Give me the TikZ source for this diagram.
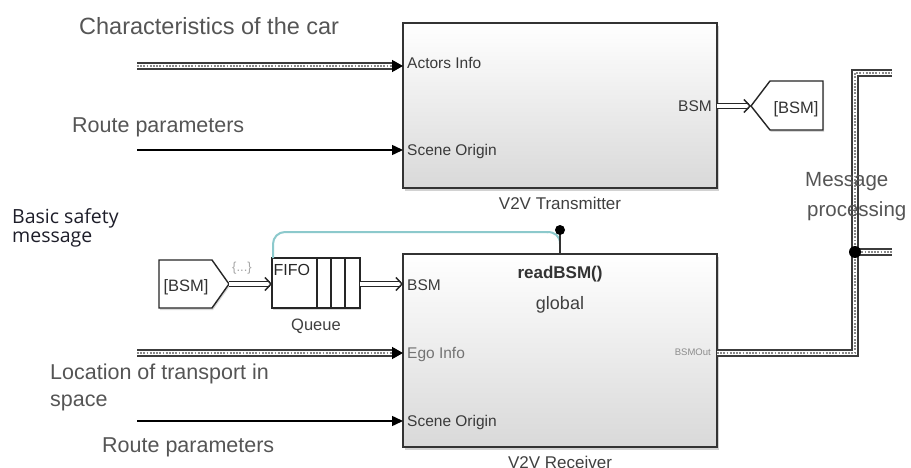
\documentclass[tikz,border=0pt]{standalone}
\usepackage{fontspec}
\setmainfont{Liberation Sans}
\newfontfamily\notefont{Open Sans}
\usetikzlibrary{arrows.meta,shadows,calc}

\definecolor{busdark}{HTML}{3C3C3C}
\definecolor{busdot}{HTML}{8A8A8A}
\definecolor{trigteal}{HTML}{8CC9CC}
\definecolor{labelgray}{HTML}{555555}
\definecolor{portgray}{HTML}{3A3A3A}
\definecolor{notecol}{HTML}{1E1E2A}

\tikzset{
  x=1pt, y=-1pt,
  block/.style={draw=black!80, line width=1.5pt, top color=white, bottom color=black!15,
    drop shadow={shadow xshift=1.5pt, shadow yshift=-3pt, opacity=0.35},
    inner sep=0pt, outer sep=0pt},
  smallbox/.style={draw=black!85, line width=1.4pt, fill=white,
    drop shadow={shadow xshift=1pt, shadow yshift=-2pt, opacity=0.3},
    inner sep=0pt, outer sep=0pt},
  busline/.style={line width=8pt, draw=busdark,
    postaction={draw=white, line width=4.2pt},
    postaction={draw=busdot, line width=1.8pt, dash pattern=on 1.8pt off 1.4pt}},
  tipline/.style={line width=1.5pt, draw=black, -{Triangle[length=11pt,width=12pt]}},
  sigline/.style={line width=1.5pt, draw=black, -{Triangle[length=11pt,width=10pt]}},
  dblline/.style={draw=black!85, line width=1.5pt, double=white, double distance=3.6pt,
    -{Straight Barb[length=6pt,width=13pt]}},
  trigline/.style={draw=trigteal, line width=2pt},
  lbl/.style={inner sep=0pt, text=labelgray, font=\fontsize{#1}{#1}\selectfont},
  port/.style={inner sep=0pt, text=portgray, font=\fontsize{15.5}{15.5}\selectfont},
  title/.style={inner sep=0pt, text=black!75, font=\fontsize{17}{17}\selectfont},
}

\begin{document}
\begin{tikzpicture}
\useasboundingbox (0,0) rectangle (911,468);
\clip (0,0) rectangle (911,468);
\fill[white] (0,0) rectangle (911,468);

% ---------- blocks ----------
\node[block, minimum width=314pt, minimum height=165pt] (tx) at (560,105.5) {};
\node[block, minimum width=314pt, minimum height=193pt] (rx) at (560,350.5) {};
\node[title, anchor=base] (txname) at (560,209) {V2V Transmitter};
\node[title, anchor=base] (rxname) at (560,468) {V2V Receiver};

% ports of the transmitter
\node[port, anchor=base west] (pActors) at (407,68.5) {Actors Info};
\node[port, anchor=base west] (pScene1) at (407,155.5) {Scene Origin};
\node[port, anchor=base east] (pBSMo) at (712,112) {BSM};

% ports and body text of the receiver
\node[port, anchor=base west] (pBSMi) at (407,290.5) {BSM};
\node[port, anchor=base west, text=black!55] (pEgo) at (407,358) {Ego Info};
\node[port, anchor=base west] (pScene2) at (407,426.5) {Scene Origin};
\node[inner sep=0pt, anchor=base east, text=black!45, font=\fontsize{9.5}{9.5}\selectfont] (pOut) at (711,355) {BSMOut};
\node[inner sep=0pt, anchor=base, text=black!80, font=\bfseries\fontsize{17}{17}\selectfont] (fnname) at (560,278) {readBSM()};
\node[inner sep=0pt, anchor=base, text=black!75, font=\fontsize{18}{18}\selectfont] (scope) at (560,309) {global};

% ---------- queue ----------
\node[smallbox, minimum width=88pt, minimum height=50pt] (q) at (316,283) {};
\foreach \qx in {317,331,345}
  \draw[line width=1.2pt, black!85] (\qx,258) -- (\qx,308);
\node[inner sep=0pt, anchor=base west, text=black!85, font=\fontsize{16}{16}\selectfont] (fifo) at (273.5,275) {FIFO};
\node[title, anchor=base, font=\fontsize{16.5}{16.5}\selectfont] (qname) at (316,330) {Queue};

% ---------- goto / from tags ----------
\draw[line width=1.4pt, black!85, fill=white,
      drop shadow={shadow xshift=1pt, shadow yshift=-2pt, opacity=0.3}]
  (751,106) -- (770,81) -- (823,81) -- (823,130) -- (770,130) -- cycle;
\coordinate (gotoTip) at (751,106);
\node[inner sep=0pt, text=black!80, font=\fontsize{16.5}{16.5}\selectfont] (gotoTxt) at (796,109) {[BSM]};

\draw[line width=1.4pt, black!85, fill=white,
      drop shadow={shadow xshift=1pt, shadow yshift=-2pt, opacity=0.3}]
  (159,260) -- (212,260) -- (229,284) -- (212,308) -- (159,308) -- cycle;
\coordinate (fromTip) at (229,284);
\node[inner sep=0pt, text=black!80, font=\fontsize{16.5}{16.5}\selectfont] (fromTxt) at (186,287) {[BSM]};
\node[inner sep=0pt, text=black!35, font=\fontsize{13}{13}\selectfont] (elide) at (242,268) {\{...\}};

% ---------- input signals ----------
\coordinate (inActors) at (137,66);
\coordinate (inRoute1) at (137,150);
\coordinate (inEgo) at (137,353);
\coordinate (inRoute2) at (137,421);

\draw[busline] (inActors) -- ($(inActors -| tx.west)+(-9,0)$);
\draw[tipline] ($(inActors -| tx.west)+(-11,0)$) -- (inActors -| tx.west);
\draw[sigline] (inRoute1) -- (inRoute1 -| tx.west);

\draw[busline] (inEgo) -- ($(inEgo -| rx.west)+(-9,0)$);
\draw[tipline] ($(inEgo -| rx.west)+(-11,0)$) -- (inEgo -| rx.west);
\draw[sigline] (inRoute2) -- (inRoute2 -| rx.west);

% ---------- BSM message path ----------
\draw[dblline] (tx.east |- gotoTip) -- (gotoTip);
\draw[dblline] (fromTip) -- (q.west |- fromTip);
\draw[dblline] (q.east |- fromTip) -- (rx.west |- fromTip);

% function-call trigger
\coordinate (trig) at (560,230);
\draw[trigline, rounded corners=12pt] (273,258) -- (273,232) -- (548,232);
\draw[trigline] (547,232) .. controls (555,232) and (560,236) .. (560,244);
\draw[line width=2pt, black!80] (trig) -- (rx.north);
\fill[black] (trig) circle (5pt);

% ---------- output bus ----------
\coordinate (outBus) at (rx.east |- 0,353);
\coordinate (busTop) at (855,73);
\coordinate (busTopEnd) at (892,73);
\coordinate (busJoin) at (855,252);
\coordinate (busBranchEnd) at (892,252);
\draw[busline, line join=miter] (outBus) -| (busTop) -- (busTopEnd);
\draw[busline] (busJoin) -- (busBranchEnd);
\fill[black] (busJoin) circle (6pt);

% ---------- annotations ----------
\node[lbl=23.5, anchor=base west] (tCar) at (79,34.5) {Characteristics of the car};
\node[lbl=21.5, anchor=base west] (tRoute1) at (72,133) {Route parameters};
\node[lbl=21.5, anchor=base west] (tLoc1) at (50,379) {Location of transport in};
\node[lbl=21.5, anchor=base west] (tLoc2) at (50,406) {space};
\node[lbl=21.5, anchor=base west] (tRoute2) at (102,452) {Route parameters};
\node[lbl=20.5, anchor=base west] (tMsg1) at (805,187) {Message};
\node[lbl=20.5, anchor=base west] (tMsg2) at (807,216) {processing};
\node[inner sep=0pt, anchor=base west, text=notecol, font=\notefont\fontsize{19.5}{19.5}\selectfont] (tBasic1) at (12,223) {Basic safety};
\node[inner sep=0pt, anchor=base west, text=notecol, font=\notefont\fontsize{19.5}{19.5}\selectfont] (tBasic2) at (12,243) {message};
\end{tikzpicture}
\end{document}
